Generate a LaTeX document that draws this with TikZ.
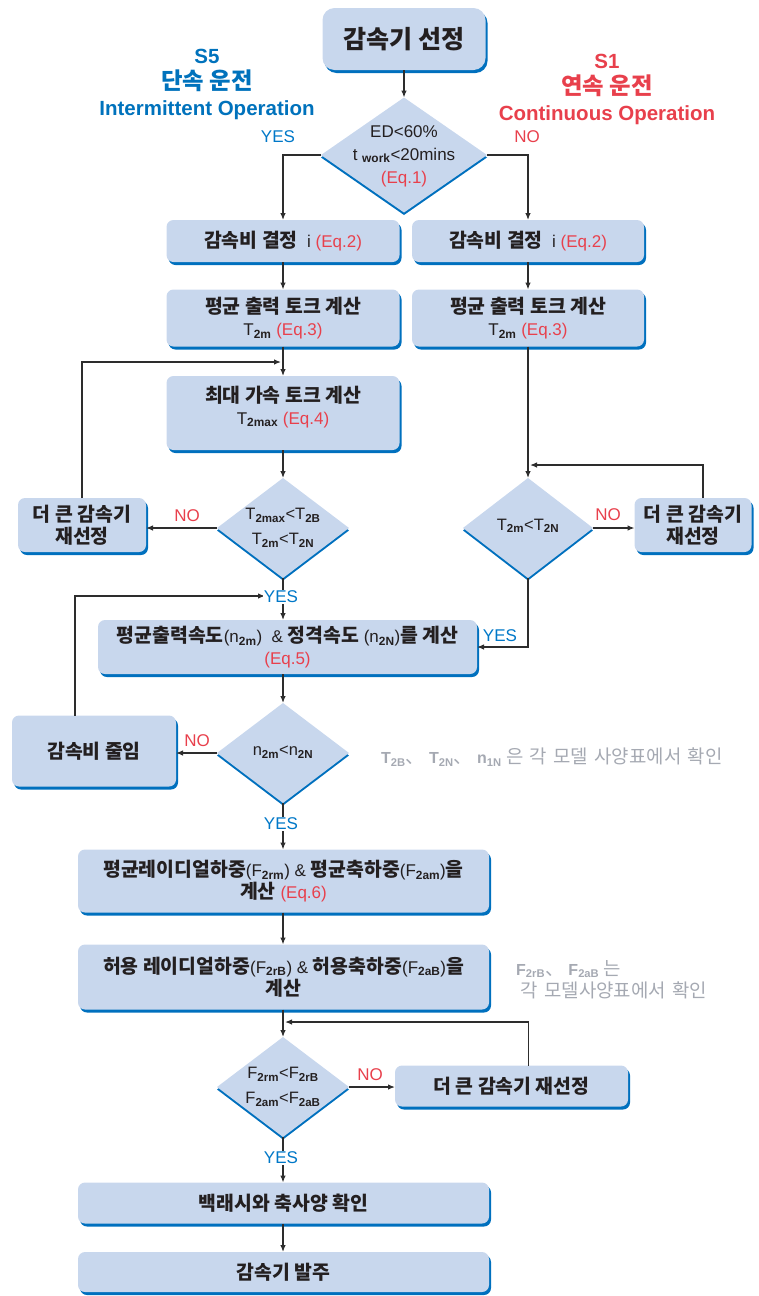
\documentclass[tikz,border=0pt]{standalone}
\usepackage{fontspec}
\setmainfont{Liberation Sans}
\newfontfamily\kr{Noto Sans CJK KR}[Scale=1.14]
\newfontfamily\krn{Noto Sans CJK KR}[Scale=1.18, WordSpace=1.5]
\usetikzlibrary{shapes.geometric,shadows,arrows.meta}
\definecolor{boxfill}{RGB}{200,215,237}
\definecolor{shblue}{RGB}{0,112,190}
\definecolor{eqred}{RGB}{232,64,76}
\definecolor{txt}{RGB}{35,31,32}
\definecolor{ttlblue}{RGB}{0,114,188}
\definecolor{ynblue}{RGB}{0,120,200}
\definecolor{notegray}{RGB}{165,169,178}
\definecolor{lnc}{RGB}{45,45,45}
\newcommand{\kb}[1]{{\kr\bfseries #1}}
\newcommand{\kn}[1]{{\krn #1}}
\newcommand{\eqr}[1]{\textcolor{eqred}{#1}}
\newcommand{\sbx}[1]{\textsubscript{\bfseries #1}}
\tikzset{
  box/.style={rectangle, rounded corners=7pt, fill=boxfill, draw=none, inner sep=2pt, outer sep=0pt,
    align=center, text=txt, font=\fontsize{17}{22}\selectfont,
    drop shadow={shadow xshift=2pt, shadow yshift=-3pt, fill=shblue, opacity=1}},
  diam/.style={diamond, fill=boxfill, draw=none, inner sep=0pt, outer sep=0pt,
    drop shadow={shadow xshift=0pt, shadow yshift=-2.5pt, fill=shblue, opacity=1}},
  dtext/.style={align=center, text=txt, inner sep=0pt, font=\fontsize{17}{23}\selectfont},
  arr/.style={draw=lnc, line width=1.2pt, -{Latex[length=7pt,width=5.5pt]}},
  yes/.style={text=ynblue, font=\fontsize{17}{20}\selectfont, inner sep=1pt},
  no/.style={text=eqred, font=\fontsize{17}{20}\selectfont, inner sep=1pt},
  note/.style={text=notegray, font=\fontsize{16}{22}\selectfont, inner sep=0pt},
  ttl/.style={align=center, font=\fontsize{20.5}{26}\selectfont\bfseries, inner sep=0pt}
}
\begin{document}
\begin{tikzpicture}[x=1pt,y=-1pt]
\useasboundingbox (0,0) rectangle (758,1296);
% titles
\node[ttl, text=ttlblue] (s5) at (207,84) {S5\\\kb{단속 운전}\\Intermittent Operation};
\node[ttl, text=eqred] (s1) at (607,89) {S1\\\kb{연속 운전}\\Continuous Operation};
% start
\node[box, minimum width=163pt, minimum height=62pt, rounded corners=12pt, font=\fontsize{22}{27}\selectfont] (start) at (404,39) {\kb{감속기 선정}};
% diamond 1
\node[diam, minimum width=166pt, minimum height=115pt] (d1) at (404,155) {};
\node[dtext] (d1t) at (404,156) {ED<60\%\\t \sbx{work}<20mins\\\eqr{(Eq.1)}};
% row 2
\node[box, minimum width=233pt, minimum height=42pt] (b2L) at (283,241) {\kb{감속비 결정}\ \ i \eqr{(Eq.2)}};
\node[box, minimum width=232pt, minimum height=42pt] (b2R) at (528,241) {\kb{감속비 결정}\ \ i \eqr{(Eq.2)}};
% row 3
\node[box, minimum width=233pt, minimum height=57pt] (b3L) at (283,318) {\kb{평균 출력 토크 계산}\\T\sbx{2m} \eqr{(Eq.3)}};
\node[box, minimum width=232pt, minimum height=57pt] (b3R) at (528,318) {\kb{평균 출력 토크 계산}\\T\sbx{2m} \eqr{(Eq.3)}};
% row 4
\node[box, minimum width=233pt, minimum height=74pt] (b4) at (283,413) {\kb{최대 가속 토크 계산}\\T\sbx{2max} \eqr{(Eq.4)}\\[-6pt]};
% diamonds 2,3
\node[diam, minimum width=132pt, minimum height=100pt] (d2) at (283,528) {};
\node[dtext, font=\fontsize{16.5}{25}\selectfont] (d2t) at (283,528) {T\sbx{2max}<T\sbx{2B}\\T\sbx{2m}<T\sbx{2N}};
\node[box, minimum width=128pt, minimum height=54pt] (bigL) at (82,525) {\kb{더 큰 감속기}\\\kb{재선정}};
\node[diam, minimum width=130pt, minimum height=100pt] (d3) at (528,528) {};
\node[dtext, font=\fontsize{16.5}{25}\selectfont] (d3t) at (528,526) {T\sbx{2m}<T\sbx{2N}};
\node[box, minimum width=117pt, minimum height=54pt] (bigR) at (693,525) {\kb{더 큰 감속기}\\\kb{재선정}};
% row 5
\node[box, minimum width=379pt, minimum height=54pt] (b5) at (287.5,647) {\kb{평균출력속도}(n\sbx{2m})\ \ \& \kb{정격속도} (n\sbx{2N})\kb{를 계산}\\\eqr{(Eq.5)}};
% diamond 4
\node[diam, minimum width=132pt, minimum height=100pt] (d4) at (283,753) {};
\node[dtext, font=\fontsize{16.5}{25}\selectfont] (d4t) at (283,752) {n\sbx{2m}<n\sbx{2N}};
\node[box, minimum width=164pt, minimum height=71pt] (reduce) at (94,751) {\kb{감속비 줄임}};
\node[note, anchor=west] (n1) at (381,757) {\textbf{T\sbx{2B}}\kn{、} \textbf{T\sbx{2N}}\kn{、} \textbf{n\sbx{1N}} \kn{은 각 모델 사양표에서 확인}};
% row 6, 7
\node[box, minimum width=411pt, minimum height=63pt] (b6) at (283.5,881) {\kb{평균레이디얼하중}(F\sbx{2rm}) \& \kb{평균축하중}(F\sbx{2am})\kb{을}\\\kb{계산} \eqr{(Eq.6)}};
\node[box, minimum width=411pt, minimum height=65pt] (b7) at (283.5,977) {\kb{허용 레이디얼하중}(F\sbx{2rB}) \& \kb{허용축하중}(F\sbx{2aB})\kb{을}\\\kb{계산}};
\node[note, anchor=north west, align=left] (n2) at (516,960) {\textbf{F\sbx{2rB}}\kn{、} \textbf{F\sbx{2aB}} \kn{는}\\\ \kn{각 모델사양표에서 확인}};
% diamond 5
\node[diam, minimum width=132pt, minimum height=100pt] (d5) at (283,1087) {};
\node[dtext, font=\fontsize{16.5}{25}\selectfont] (d5t) at (283,1087) {F\sbx{2rm}<F\sbx{2rB}\\F\sbx{2am}<F\sbx{2aB}};
\node[box, minimum width=233pt, minimum height=41pt] (bigB) at (511.5,1086) {\kb{더 큰 감속기 재선정}};
% final
\node[box, minimum width=411pt, minimum height=41pt] (b8) at (283.5,1203) {\kb{백래시와 축사양 확인}};
\node[box, minimum width=411pt, minimum height=40pt] (b9) at (283.5,1272) {\kb{감속기 발주}};
% coordinates
\coordinate (fb1) at (281,362);
\coordinate (fb2) at (530,465);
\coordinate (fb3) at (265,596);
\coordinate (fb4) at (285,1022);
% connectors
\draw[arr] (start) -- (d1);
\draw[arr] (d1.west) -| (b2L.north);
\draw[arr] (d1.east) -| (b2R.north);
\draw[arr] (b2L) -- (b3L);
\draw[arr] (b2R) -- (b3R);
\draw[arr] (b3L) -- (b4);
\draw[arr] (bigL.north) |- (fb1);
\draw[arr] (b4) -- (d2);
\draw[arr] (d2.west) -- (d2.west -| bigL.east);
\draw[arr] (b3R) -- (d3);
\draw[arr] ([xshift=10pt]bigR.north) |- (fb2);
\draw[arr] (d3.east) -- (d3.east -| bigR.west);
\draw[arr] (d2.south) -- (d2.south |- b5.north);
\draw[arr] ([xshift=-7pt]reduce.north -| bigL.north) |- (fb3);
\draw[arr] (d3.south) |- (b5.east);
\draw[arr] (d4 |- b5.south) -- (d4.north);
\draw[arr] (d4.west) -- (d4.west -| reduce.east);
\draw[arr] (d4.south) -- (d4.south |- b6.north);
\draw[arr] (d4 |- b6.south) -- (d4 |- b7.north);
\draw[arr] (d5 |- b7.south) -- (d5.north);
\draw[arr] ([xshift=17pt]bigB.north) |- (fb4);
\draw[arr] (d5.east) -- (d5.east -| bigB.west);
\draw[arr] (d5.south) -- (d5.south |- b8.north);
\draw[arr] (d5 |- b8.south) -- (d5 |- b9.north);
% labels
\node[yes] (y1) at (278,137) {YES};
\node[no] (no1) at (527,137) {NO};
\node[no] (no2) at (187,516) {NO};
\node[no] (no3) at (608,515) {NO};
\node[yes, fill=white] (y2) at (281,597) {YES};
\node[yes] (y3) at (500,636) {YES};
\node[no] (no4) at (197,741) {NO};
\node[yes, fill=white] (y4) at (281,824) {YES};
\node[no] (no5) at (370,1075) {NO};
\node[yes, fill=white] (y5) at (281,1158) {YES};
\end{tikzpicture}
\end{document}
